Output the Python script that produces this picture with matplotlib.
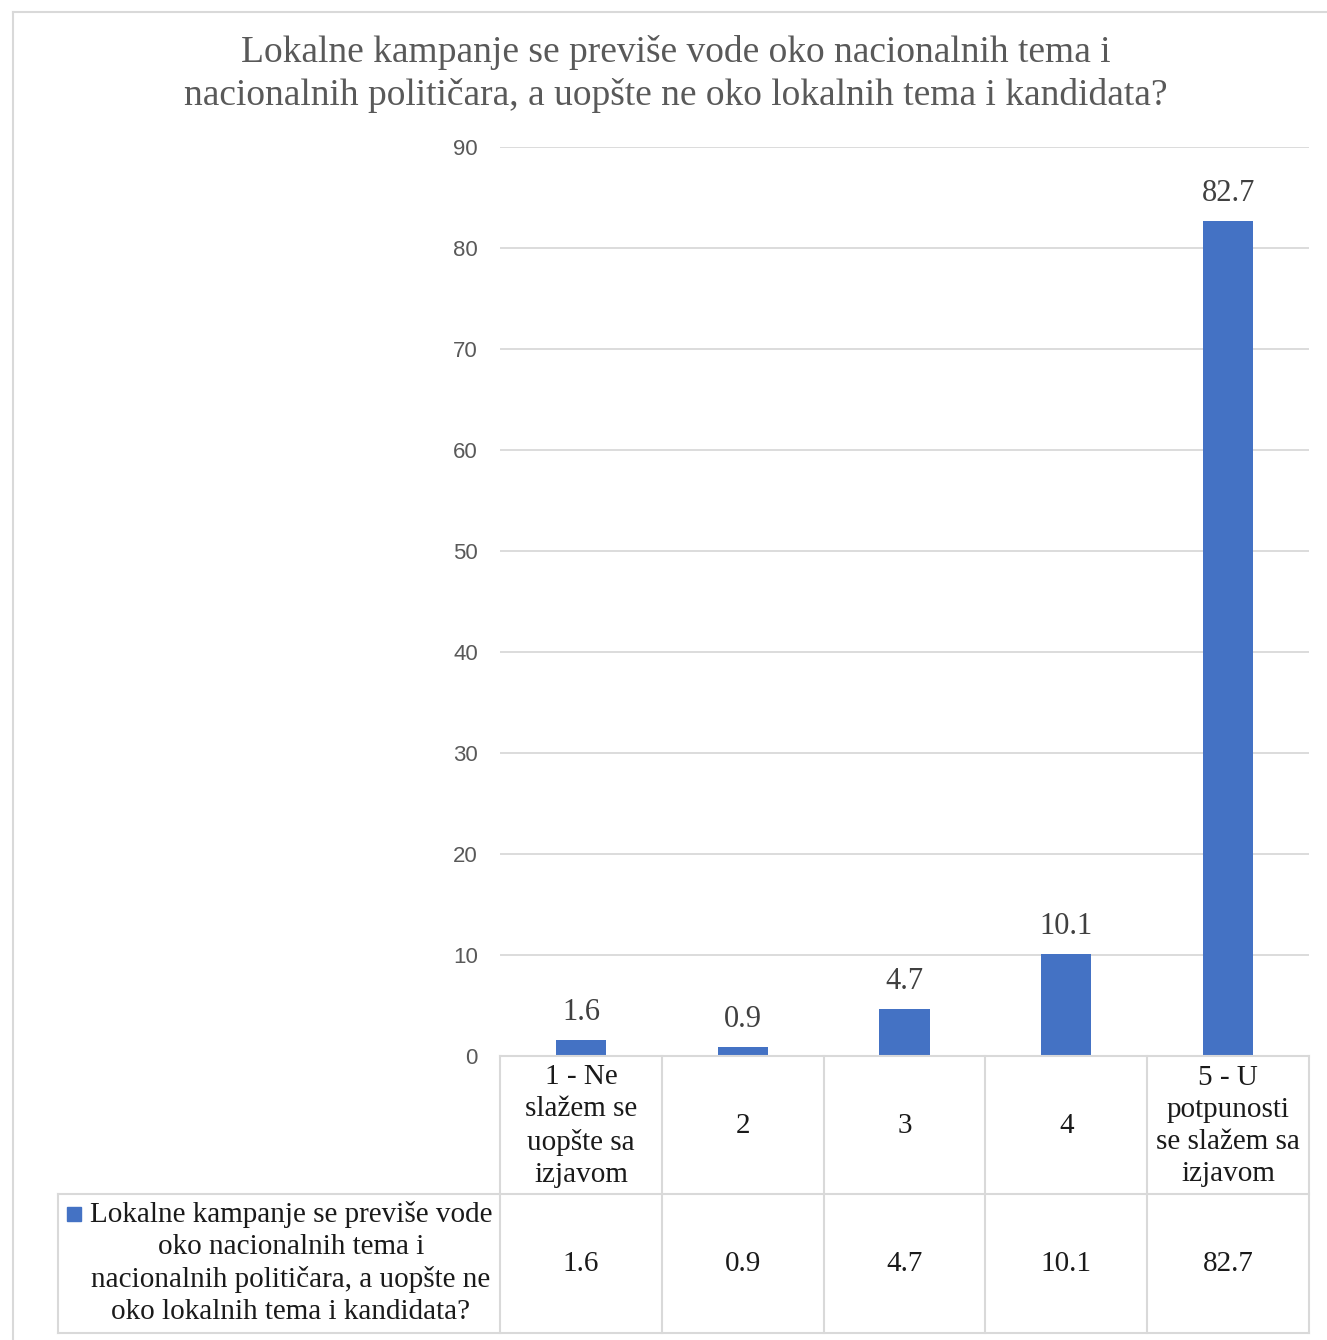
import matplotlib
matplotlib.use("Agg")
import matplotlib.pyplot as plt
from matplotlib.lines import Line2D
from matplotlib.patches import Rectangle
from matplotlib.transforms import blended_transform_factory

# data
categories = ["1 - Ne\nslažem se\nuopšte sa\nizjavom", "2", "3", "4",
              "5 - U\npotpunosti\nse slažem sa\nizjavom"]
values = [1.6, 0.9, 4.7, 10.1, 82.7]
value_labels = ["1.6", "0.9", "4.7", "10.1", "82.7"]
yticks = [0, 10, 20, 30, 40, 50, 60, 70, 80, 90]
title = ("Lokalne kampanje se previše vode oko nacionalnih tema i\n"
         "nacionalnih političara, a uopšte ne oko lokalnih tema i kandidata?")
series_name = ("Lokalne kampanje se previše vode\noko nacionalnih tema i\n"
               "nacionalnih političara, a uopšte ne\noko lokalnih tema i kandidata?")

W, H = 1327, 1340
BLUE = "#4472C4"
GRID = "#d9d9d9"
SERIF = "Liberation Serif"


def fx(x):
    return x / W


def fy(y):
    return 1 - y / H


fig = plt.figure(figsize=(W / 100, H / 100), dpi=100)
ax = fig.add_axes([fx(500), fy(1056), fx(1309) - fx(500), fy(147) - fy(1056)])

xs = list(range(len(values)))
ax.bar(xs, values, width=0.31, color=BLUE, zorder=3)
for x, v, lab in zip(xs, values, value_labels):
    ax.annotate(lab, (x, v), xytext=(0, 9), textcoords="offset points",
                ha="center", va="bottom", fontsize=22, family=SERIF, color="#404040")

ax.set_xlim(-0.5, len(values) - 0.5)
ax.set_ylim(0, 90)
ax.set_yticks(yticks)
ax.set_yticklabels([str(t) for t in yticks], family="Liberation Sans",
                   fontsize=16, color="#595959")
ax.tick_params(axis="y", length=0, pad=16)
ax.set_xticks([])
ax.grid(axis="y", color=GRID, lw=1.3, zorder=0)
for s in ax.spines.values():
    s.set_visible(False)

# data table below the plot
bt = blended_transform_factory(ax.transData, fig.transFigure)
y0, y1, y2 = fy(1056), fy(1194), fy(1333)
lw = 1.5
edges = [i - 0.5 for i in range(len(values) + 1)]
fig.add_artist(Line2D([edges[0], edges[-1]], [y0, y0], transform=bt, color=GRID, lw=lw))
for yy in (y1, y2):
    fig.add_artist(Line2D([fx(58), fx(1309)], [yy, yy], transform=fig.transFigure,
                          color=GRID, lw=lw))
for e in edges:
    fig.add_artist(Line2D([e, e], [y0, y2], transform=bt, color=GRID, lw=lw))
fig.add_artist(Line2D([fx(58), fx(58)], [y1, y2], transform=fig.transFigure,
                      color=GRID, lw=lw))

for x, cat, lab in zip(xs, categories, value_labels):
    fig.text(x, fy(1126), cat, transform=bt, ha="center", va="center",
             fontsize=21, family=SERIF, color="#1a1a1a", linespacing=1.3)
    fig.text(x, fy(1264), lab, transform=bt, ha="center", va="center",
             fontsize=21, family=SERIF, color="#1a1a1a")

# legend key cell
fig.add_artist(Rectangle((fx(67), fy(1221)), fx(14), fy(1207) - fy(1221),
                         transform=fig.transFigure, color=BLUE))
fig.text(fx(291), fy(1263), series_name, ha="center", va="center",
         multialignment="center", fontsize=21, family=SERIF, color="#1a1a1a",
         linespacing=1.3)

# title
fig.text(fx(676), fy(74), title, ha="center", va="center", fontsize=27,
         family=SERIF, color="#595959", linespacing=1.3)

# chart border
fig.add_artist(Line2D([fx(13), 1], [fy(12), fy(12)], transform=fig.transFigure,
                      color=GRID, lw=1.5))
fig.add_artist(Line2D([fx(13), fx(13)], [fy(12), 0], transform=fig.transFigure,
                      color=GRID, lw=1.5))

fig.savefig("out.png", dpi=100)
